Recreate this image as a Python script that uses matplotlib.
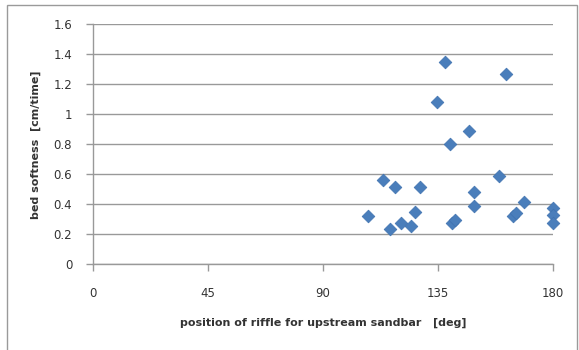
import numpy as np
import matplotlib.pyplot as plt
from matplotlib.patches import Rectangle

# riffle position [deg] vs bed softness [cm/time]
position = [137.9, 161.5, 134.5, 147.3, 139.6, 159.0, 113.5, 118.3, 127.8, 149.2,
            149.2, 168.5, 180.0, 180.0, 180.0, 107.7, 125.9, 120.4, 116.1, 124.3,
            140.4, 141.6, 164.3, 165.5]
softness = [1.351, 1.269, 1.082, 0.887, 0.804, 0.591, 0.564, 0.516, 0.513, 0.484,
            0.391, 0.413, 0.378, 0.327, 0.278, 0.320, 0.349, 0.278, 0.233, 0.256,
            0.273, 0.296, 0.322, 0.340]

xticks = [0, 45, 90, 135, 180]
yticks = [0, 0.2, 0.4, 0.6, 0.8, 1.0, 1.2, 1.4, 1.6]
ylabels = ['0', '0.2', '0.4', '0.6', '0.8', '1', '1.2', '1.4', '1.6']

W, H = 579, 350
fig = plt.figure(figsize=(W / 100, H / 100), dpi=100)
ax = fig.add_axes([93 / W, 1 - 264.3 / H, 460 / W, 240 / H])

# chart area frame
fig.patches.append(Rectangle((6.5 / W, -0.05), (W - 9) / W, 1.05 - 4.5 / H,
                             transform=fig.transFigure, fill=False,
                             edgecolor='#9a9a9a', linewidth=1.0))

ax.scatter(position, softness, marker='D', s=42, color='#4a7ebb',
           edgecolors='#3f72b0', linewidths=0.5, zorder=3, clip_on=False)

ax.set_xlim(0, 180)
ax.set_ylim(0, 1.6)
ax.set_xticks(xticks)
ax.set_xticklabels([str(t) for t in xticks])
ax.set_yticks(yticks)
ax.set_yticklabels(ylabels)
ax.yaxis.grid(True, color='#999999', linewidth=1.0)
ax.set_axisbelow(True)

for side in ['top', 'right']:
    ax.spines[side].set_visible(False)
for side in ['left', 'bottom']:
    ax.spines[side].set_color('#999999')
    ax.spines[side].set_linewidth(1.0)

ax.tick_params(axis='both', direction='out', length=5, width=1.0,
               color='#999999', labelsize=8.5, labelcolor='#333333')
ax.tick_params(axis='x', pad=11)
ax.tick_params(axis='y', pad=10)

ax.set_xlabel('position of riffle for upstream sandbar   [deg]', fontsize=8,
              fontweight='bold', color='#333333', labelpad=13)
ax.set_ylabel('bed softness  [cm/time]', fontsize=8, fontweight='bold',
              color='#333333', labelpad=9)

fig.savefig('out.png', dpi=100)
